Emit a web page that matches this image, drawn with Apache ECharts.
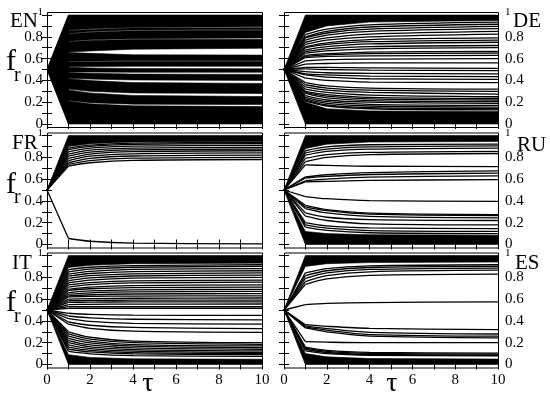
<!DOCTYPE html>
<html><head><meta charset="utf-8">
<script src="https://cdn.jsdelivr.net/npm/echarts@6/dist/echarts.min.js"></script>
<style>html,body{margin:0;padding:0;background:#fff}#c{width:550px;height:401px}</style>
</head><body><div id="c"></div>
<script>
// ---------- data ----------
const tau = [0, 1, 2, 4, 10];          // sample times; every trajectory starts at f0
const f0 = 0.5;
const xLabelValues = [0, 2, 4, 6, 8, 10];
const yLabelValues = [0, 0.2, 0.4, 0.6, 0.8, 1];
const panels = ['EN', 'DE', 'FR', 'RU', 'IT', 'ES'];

// bands = dense bundles of trajectories: [lower, upper] at tau = 1,2,4,10
const enBands = [
  [[0], [1]],
  [[0.86,0.875,0.886,0.892],[1,1,1,1]],
  [[0.83,0.848,0.862,0.868],[0.855,0.868,0.88,0.884]],
  [[0.76,0.772,0.783,0.79],[0.825,0.842,0.855,0.86]],
  [[0.66,0.67,0.686,0.695],[0.755,0.765,0.775,0.778]],
  [[0.575,0.578,0.58,0.58],[0.655,0.648,0.635,0.632]],
  [[0.525,0.527,0.529,0.53],[0.57,0.572,0.573,0.574]],
  [[0.478,0.476,0.475,0.475],[0.52,0.514,0.509,0.507]],
  [[0.42,0.412,0.404,0.40],[0.473,0.465,0.458,0.455]],
  [[0.32,0.30,0.285,0.28],[0.415,0.398,0.38,0.372]],
  [[0.215,0.195,0.182,0.178],[0.313,0.285,0.262,0.252]],
  [[0,0,0,0],[0.21,0.185,0.167,0.16]]
];
const enLines = [];

const deBands = [
  [[0.84,0.9,0.935,0.95],[1,1,1,1]],
  [[0,0,0,0],[0.2,0.14,0.12,0.115]]
];
const deLines = [
  [0.82,0.87,0.91,0.935],[0.80,0.85,0.89,0.915],[0.79,0.835,0.87,0.895],
  [0.77,0.815,0.85,0.875],[0.75,0.79,0.825,0.85],[0.73,0.77,0.80,0.825],
  [0.71,0.745,0.775,0.79],[0.70,0.73,0.755,0.77],[0.68,0.71,0.735,0.75],
  [0.665,0.69,0.71,0.72],[0.65,0.67,0.69,0.70],[0.63,0.645,0.66,0.665],
  [0.62,0.635,0.645,0.65],[0.61,0.62,0.625,0.63],[0.58,0.59,0.595,0.60],
  [0.55,0.555,0.56,0.56],[0.52,0.52,0.515,0.51],[0.505,0.5,0.495,0.49],
  [0.48,0.47,0.465,0.46],[0.46,0.45,0.44,0.435],[0.45,0.43,0.415,0.41],
  [0.42,0.40,0.385,0.38],[0.38,0.35,0.33,0.32],[0.36,0.33,0.31,0.30],
  [0.34,0.31,0.29,0.275],[0.32,0.29,0.265,0.25],[0.30,0.27,0.245,0.235],
  [0.29,0.255,0.23,0.22],[0.28,0.24,0.215,0.205],[0.26,0.22,0.20,0.19],
  [0.245,0.205,0.18,0.17],[0.23,0.19,0.165,0.155],[0.22,0.175,0.15,0.14],
  [0.21,0.165,0.14,0.13]
];

const frBands = [
  [[0.90,0.925,0.94,0.945],[1,1,1,1]]
];
const frLines = [
  [0.72,0.75,0.772,0.78],[0.735,0.77,0.792,0.80],[0.75,0.79,0.812,0.82],
  [0.77,0.81,0.832,0.84],[0.79,0.83,0.852,0.86],[0.81,0.848,0.868,0.875],
  [0.83,0.866,0.884,0.89],[0.85,0.884,0.902,0.91],[0.87,0.90,0.918,0.925],
  [0.885,0.912,0.93,0.935],
  [0.055,0.03,0.012,0.006]
];

const ruBands = [
  [[0.88,0.92,0.94,0.945],[1,1,1,1]],
  [[0,0,0,0],[0.12,0.1,0.09,0.085]]
];
const ruLines = [
  [0.86,0.895,0.915,0.92],[0.84,0.875,0.895,0.905],[0.82,0.855,0.875,0.885],
  [0.79,0.825,0.845,0.855],[0.76,0.80,0.825,0.835],[0.73,0.725,0.718,0.715],
  [0.62,0.64,0.66,0.675],[0.61,0.625,0.642,0.655],[0.585,0.60,0.618,0.63],
  [0.575,0.58,0.588,0.595],[0.44,0.42,0.402,0.395],[0.36,0.32,0.288,0.275],
  [0.345,0.31,0.278,0.265],[0.33,0.29,0.258,0.245],[0.29,0.25,0.228,0.22],
  [0.26,0.22,0.19,0.18],[0.2,0.17,0.152,0.145],[0.18,0.15,0.128,0.12],
  [0.16,0.13,0.108,0.10]
];

const itBands = [
  [[0.89,0.91,0.925,0.93],[1,1,1,1]],
  [[0,0,0,0],[0.09,0.065,0.052,0.048]]
];
const itLines = [
  [0.87,0.892,0.908,0.915],[0.85,0.875,0.892,0.90],[0.83,0.855,0.872,0.88],
  [0.81,0.835,0.852,0.86],[0.79,0.815,0.832,0.84],[0.77,0.795,0.812,0.82],
  [0.75,0.775,0.792,0.80],[0.73,0.752,0.768,0.775],[0.71,0.732,0.748,0.755],
  [0.69,0.71,0.724,0.73],[0.68,0.695,0.705,0.71],[0.66,0.675,0.685,0.69],
  [0.645,0.658,0.666,0.67],[0.63,0.64,0.647,0.65],[0.62,0.625,0.628,0.63],
  [0.60,0.605,0.608,0.61],[0.585,0.588,0.59,0.59],[0.57,0.572,0.574,0.575],
  [0.55,0.552,0.554,0.555],[0.53,0.53,0.53,0.53],[0.515,0.515,0.515,0.515],
  [0.47,0.46,0.453,0.45],[0.445,0.428,0.415,0.41],[0.42,0.395,0.378,0.37],
  [0.39,0.36,0.34,0.33],[0.37,0.332,0.306,0.295],[0.30,0.25,0.215,0.20],
  [0.28,0.232,0.20,0.185],[0.26,0.215,0.183,0.17],[0.24,0.198,0.168,0.155],
  [0.22,0.18,0.152,0.14],[0.20,0.162,0.137,0.125],[0.18,0.145,0.122,0.11],
  [0.16,0.13,0.109,0.10],[0.14,0.115,0.097,0.09],[0.12,0.098,0.082,0.075]
];

const esBands = [
  [[0.9,0.925,0.935,0.94],[1,1,1,1]],
  [[0,0,0,0],[0.1,0.07,0.055,0.05]]
];
const esLines = [
  [0.735,0.785,0.818,0.83],[0.76,0.815,0.85,0.865],[0.79,0.84,0.872,0.885],
  [0.815,0.86,0.89,0.90],[0.84,0.88,0.905,0.915],[0.55,0.56,0.568,0.575],
  [0.365,0.35,0.332,0.32],[0.355,0.33,0.295,0.28],[0.345,0.315,0.275,0.26],
  [0.335,0.30,0.26,0.245],[0.21,0.205,0.20,0.20],[0.16,0.13,0.112,0.105],
  [0.15,0.12,0.102,0.095],[0.14,0.11,0.092,0.085],[0.125,0.10,0.085,0.08]
];

const panelData = {
  EN: {bands: enBands, lines: enLines}, DE: {bands: deBands, lines: deLines},
  FR: {bands: frBands, lines: frLines}, RU: {bands: ruBands, lines: ruLines},
  IT: {bands: itBands, lines: itLines}, ES: {bands: esBands, lines: esLines}
};

// ---------- layout ----------
const colLeft = [47, 284], colWidth = [215, 214];
const rowTop = [15, 135.5, 255.5], unitH = 109, pad = 3;
const FONT = 'Liberation Serif';

const grids = [], xAxes = [], yAxes = [], series = [], graphic = [];

function isLabel(list, v) { return list.some(t => Math.abs(t - v) < 1e-6); }

panels.forEach((name, gi) => {
  const col = gi % 2, row = Math.floor(gi / 2);
  const bottomRow = row === 2;
  grids.push({left: colLeft[col], top: rowTop[row], width: colWidth[col], height: unitH});
  const xBase = {
    gridIndex: gi, type: 'value', min: 0, max: 10, interval: 1, offset: pad,
    axisLine: {show: false}, splitLine: {show: false},
    axisTick: {show: true, inside: true, length: 5, lineStyle: {color: '#000', width: 1}}
  };
  xAxes.push(Object.assign({}, xBase, {position: 'bottom',
    axisLabel: {show: bottomRow, color: '#000', fontSize: 15, fontFamily: FONT, margin: 5,
      formatter: v => isLabel(xLabelValues, v) ? String(v) : ''}}));
  xAxes.push(Object.assign({}, xBase, {position: 'top', axisLabel: {show: false}}));
  const yBase = {
    gridIndex: gi, type: 'value', min: 0, max: 1, interval: 0.1,
    axisLine: {show: false}, splitLine: {show: false},
    axisTick: {show: true, inside: true, length: 5, lineStyle: {color: '#000', width: 1}}
  };
  const lab = (margin) => ({show: true, color: '#000', fontSize: 15, fontFamily: FONT, margin: margin,
    formatter: v => !isLabel(yLabelValues, v) ? '' : (Math.abs(v - 1) < 1e-6 ? '{s|1}' : (v === 0 ? '0' : v.toFixed(1))),
    rich: {s: {fontSize: 11, fontFamily: FONT, color: '#000', padding: [0, 0, 5, 0]}}});
  yAxes.push(Object.assign({}, yBase, {position: 'left',
    axisLabel: col === 0 ? lab(4) : {show: false}}));
  yAxes.push(Object.assign({}, yBase, {position: 'right',
    axisLabel: col === 1 ? lab(7) : {show: false}}));

  const {bands, lines} = panelData[name];
  series.push({
    type: 'custom', xAxisIndex: 2 * gi, yAxisIndex: 2 * gi, silent: true, z: 2,
    data: bands.map(() => [5, 0.5]),
    renderItem: (params, api) => {
      const [lo, hi] = bands[params.dataIndex];
      const pts = [api.coord([tau[0], f0])];
      hi.forEach((v, i) => pts.push(api.coord([tau[i + 1], v])));
      for (let i = lo.length - 1; i >= 0; i--) pts.push(api.coord([tau[i + 1], lo[i]]));
      return {type: 'polygon', shape: {points: pts}, style: {fill: '#000', stroke: '#000', lineWidth: 0.6}};
    }
  });
  lines.forEach(l => {
    // initial jump 0 -> 1 (straight), then smooth relaxation 1 -> 10
    series.push({
      type: 'line', xAxisIndex: 2 * gi, yAxisIndex: 2 * gi, silent: true, z: 3,
      symbol: 'none', lineStyle: {color: '#000', width: 1.3},
      data: [[tau[0], f0], [tau[1], l[0]]]
    });
    series.push({
      type: 'line', xAxisIndex: 2 * gi, yAxisIndex: 2 * gi, silent: true, z: 3,
      symbol: 'none', smooth: 0.3, lineStyle: {color: '#000', width: 1.3},
      data: l.map((v, i) => [tau[i + 1], v])
    });
  });

  graphic.push({type: 'rect', z: 100, silent: true,
    shape: {x: colLeft[col] + 0.5, y: rowTop[row] - pad + 0.5, width: colWidth[col], height: unitH + 2 * pad},
    style: {fill: 'none', stroke: '#000', lineWidth: 1}});
});

// panel names
const namePos = {EN: [10, 21.5], DE: [513, 21.5], FR: [12, 143.5], RU: [517, 145], IT: [12, 263], ES: [515, 263]};
panels.forEach(n => graphic.push({type: 'text', x: namePos[n][0], y: namePos[n][1], z: 101, silent: true,
  style: {text: n, font: '21px ' + FONT, fill: '#000', align: 'left', verticalAlign: 'middle'}}));
// y-axis titles f_r
[[62.4, 75.6], [185.4, 197.6], [303.4, 316.6]].forEach(([fy, ry]) => {
  graphic.push({type: 'text', x: 6, y: fy, z: 101, silent: true,
    style: {text: 'f', font: '30px ' + FONT, fill: '#000', align: 'left', verticalAlign: 'middle'}});
  graphic.push({type: 'text', x: 14, y: ry, z: 101, silent: true,
    style: {text: 'r', font: '20px ' + FONT, fill: '#000', align: 'left', verticalAlign: 'middle'}});
});
// x-axis titles tau
[148, 392].forEach(x => graphic.push({type: 'text', x: x, y: 384, z: 101, silent: true,
  style: {text: 'τ', font: '28px ' + FONT, fill: '#000', align: 'center', verticalAlign: 'middle'}}));

const chart = echarts.init(document.getElementById('c'), null, {renderer: 'canvas'});
chart.setOption({
  animation: false, backgroundColor: '#fff',
  grid: grids, xAxis: xAxes, yAxis: yAxes, series: series, graphic: graphic
});
</script></body></html>
